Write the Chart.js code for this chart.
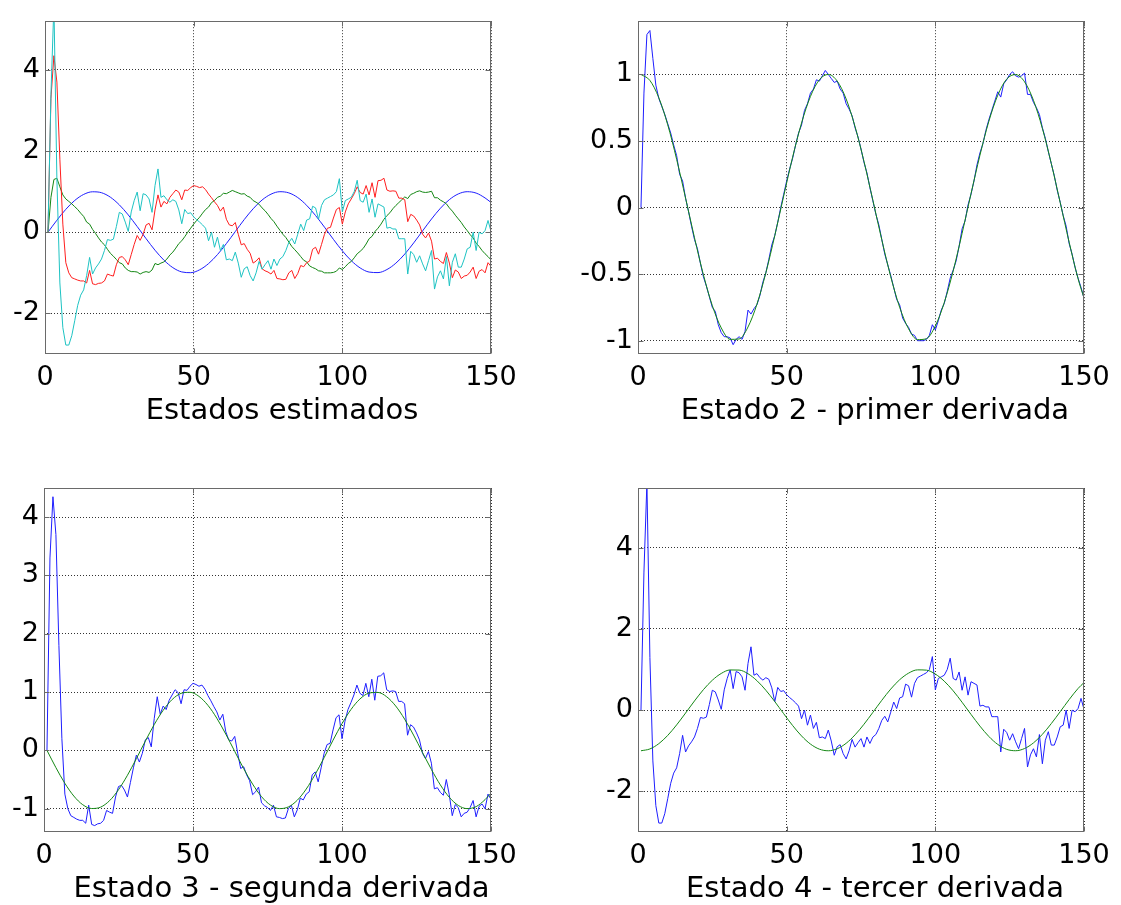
<!DOCTYPE html>
<html>
<head>
<meta charset="utf-8">
<script src="https://cdn.jsdelivr.net/npm/chart.js@4.4.1/dist/chart.umd.min.js"></script>
<style>
  body { margin: 0; background: #fff; width: 1121px; height: 905px; position: relative; overflow: hidden; }
  canvas { position: absolute; }
</style>
</head>
<body>
<canvas id="c1" width="540" height="452" style="left:0;top:0"></canvas>
<canvas id="c2" width="561" height="452" style="left:560px;top:0"></canvas>
<canvas id="c3" width="540" height="453" style="left:0;top:452px"></canvas>
<canvas id="c4" width="561" height="453" style="left:560px;top:452px"></canvas>
<script>
// estimator runs one value per step
const steps = [];
for (let k = 1; k <= 150; k++) steps.push(k);

// true states, read every 3 steps (smooth curves)
const tTrue = [1,4,7,10,13,16,19,22,25,28,31,34,37,40,43,46,49,52,55,58,61,64,67,70,73,76,79,82,85,88,
  91,94,97,100,103,106,109,112,115,118,121,124,127,130,133,136,139,142,145,148,150];

const x1True = [0.000,0.296,0.565,0.783,0.932,0.997,0.974,0.863,0.675,0.427,
  0.141,-0.158,-0.443,-0.688,-0.872,-0.978,-0.996,-0.926,-0.773,-0.551,
  -0.279,0.017,0.312,0.578,0.794,0.938,0.999,0.970,0.855,0.663,
  0.412,0.125,-0.175,-0.458,-0.700,-0.880,-0.981,-0.994,-0.919,-0.762,
  -0.537,-0.263,0.034,0.327,0.592,0.804,0.944,0.999,0.965,0.845,0.734];

const x2True = [1.000,0.955,0.825,0.622,0.362,0.071,-0.227,-0.505,-0.737,-0.904,
  -0.990,-0.987,-0.897,-0.726,-0.490,-0.211,0.087,0.378,0.635,0.835,
  0.960,1.000,0.950,0.816,0.608,0.347,0.054,-0.243,-0.519,-0.749,
  -0.911,-0.992,-0.985,-0.889,-0.714,-0.476,-0.194,0.104,0.393,0.648,
  0.844,0.965,0.999,0.945,0.806,0.595,0.331,0.037,-0.260,-0.534,-0.679];

const x3True = [0.000,-0.296,-0.565,-0.783,-0.932,-0.997,-0.974,-0.863,-0.675,-0.427,
  -0.141,0.158,0.443,0.688,0.872,0.978,0.996,0.926,0.773,0.551,
  0.279,-0.017,-0.312,-0.578,-0.794,-0.938,-0.999,-0.970,-0.855,-0.663,
  -0.412,-0.125,0.175,0.458,0.700,0.880,0.981,0.994,0.919,0.762,
  0.537,0.263,-0.034,-0.327,-0.592,-0.804,-0.944,-0.999,-0.965,-0.845,-0.734];

const x4True = [-1.000,-0.955,-0.825,-0.622,-0.362,-0.071,0.227,0.505,0.737,0.904,
  0.990,0.987,0.897,0.726,0.490,0.211,-0.087,-0.378,-0.635,-0.835,
  -0.960,-1.000,-0.950,-0.816,-0.608,-0.347,-0.054,0.243,0.519,0.749,
  0.911,0.992,0.985,0.889,0.714,0.476,0.194,-0.104,-0.393,-0.648,
  -0.844,-0.965,-0.999,-0.945,-0.806,-0.595,-0.331,-0.037,0.260,0.534,0.679];

// estimated states
const est2 = [0.00,0.86,1.30,1.33,1.12,0.92,0.82,0.76,0.70,0.63,
  0.56,0.47,0.39,0.25,0.20,0.07,-0.03,-0.14,-0.24,-0.31,
  -0.42,-0.52,-0.59,-0.67,-0.75,-0.78,-0.88,-0.94,-0.97,-0.97,
  -0.98,-1.03,-0.99,-0.97,-0.99,-0.93,-0.77,-0.80,-0.76,-0.73,
  -0.66,-0.56,-0.49,-0.39,-0.28,-0.21,-0.11,0.00,0.10,0.20,
  0.29,0.37,0.47,0.56,0.62,0.73,0.78,0.86,0.89,0.96,
  0.95,0.99,1.03,1.00,0.97,0.94,0.95,0.89,0.86,0.78,
  0.74,0.69,0.60,0.53,0.44,0.34,0.26,0.15,0.05,-0.05,
  -0.13,-0.24,-0.35,-0.43,-0.51,-0.60,-0.69,-0.73,-0.83,-0.87,
  -0.90,-0.95,-0.96,-1.00,-1.00,-1.00,-0.99,-0.96,-0.88,-0.92,
  -0.85,-0.77,-0.72,-0.63,-0.53,-0.47,-0.40,-0.29,-0.16,-0.10,
  0.02,0.10,0.20,0.32,0.41,0.48,0.58,0.66,0.73,0.80,
  0.87,0.83,0.93,0.96,1.00,1.02,0.99,0.98,0.99,1.01,
  0.85,0.85,0.79,0.75,0.70,0.60,0.52,0.42,0.33,0.24,
  0.13,0.04,-0.06,-0.14,-0.27,-0.35,-0.45,-0.53,-0.60,-0.68];

const est3 = [0.00,3.30,4.35,3.70,1.80,0.20,-0.75,-1.00,-1.12,-1.15,
  -1.18,-1.20,-1.20,-1.25,-0.94,-1.27,-1.29,-1.26,-1.25,-1.20,
  -1.03,-1.06,-1.08,-0.80,-0.62,-0.60,-0.68,-0.80,-0.55,-0.30,
  -0.08,-0.20,-0.05,0.18,0.22,0.06,0.55,0.92,0.62,0.76,
  0.70,0.86,0.95,1.04,0.99,0.80,1.04,1.03,1.10,1.15,
  1.13,1.10,1.12,1.05,0.94,0.85,0.75,0.66,0.52,0.62,
  0.32,0.18,0.16,0.24,-0.05,-0.31,-0.28,-0.42,-0.52,-0.76,
  -0.71,-0.63,-0.90,-0.95,-0.98,-1.03,-0.94,-1.14,-1.15,-1.17,
  -1.16,-1.00,-0.94,-1.14,-1.02,-0.82,-0.85,-0.75,-0.71,-0.42,
  -0.37,-0.54,-0.30,-0.05,0.10,0.12,0.35,0.56,0.61,0.20,
  0.50,0.70,0.82,0.95,1.12,0.98,0.94,1.15,0.92,1.22,
  0.86,1.27,1.28,1.33,1.04,1.01,1.02,1.01,0.84,0.84,
  0.80,0.26,0.44,0.40,0.30,0.18,-0.05,-0.14,-0.02,-0.22,
  -0.66,-0.64,-0.72,-0.77,-0.50,-0.76,-1.12,-0.93,-0.98,-1.14,
  -1.08,-1.06,-0.98,-0.86,-1.14,-0.96,-0.92,-1.00,-0.75,-0.84];

const est4 = [0.00,3.40,5.60,1.30,-1.25,-2.35,-2.78,-2.78,-2.55,-2.18,
  -1.80,-1.55,-1.42,-1.07,-0.62,-1.03,-0.88,-0.78,-0.66,-0.45,
  -0.18,-0.20,-0.17,0.14,0.49,0.45,0.25,0.02,0.50,0.78,
  0.99,0.53,0.95,0.92,0.82,0.49,1.15,1.56,0.86,0.90,
  0.80,0.74,0.80,0.76,0.55,0.21,0.56,0.46,0.48,0.38,
  0.31,0.25,0.18,0.10,-0.21,0.00,-0.37,-0.12,-0.45,-0.30,
  -0.68,-0.66,-0.70,-0.49,-0.76,-1.11,-0.90,-0.85,-1.07,-1.20,
  -1.00,-0.72,-0.91,-0.80,-0.70,-0.91,-0.66,-0.82,-0.66,-0.60,
  -0.45,-0.25,-0.15,-0.29,-0.05,0.20,0.04,0.30,0.33,0.64,
  0.60,0.32,0.66,0.80,0.84,0.88,0.92,1.00,1.32,0.50,
  0.78,0.82,0.86,1.00,1.28,0.78,0.74,0.94,0.49,0.82,
  0.37,0.70,0.66,0.62,0.10,0.12,0.08,0.08,-0.16,-0.16,
  -0.16,-1.03,-0.47,-0.55,-0.74,-0.58,-0.78,-0.95,-0.70,-0.45,
  -1.40,-1.10,-0.95,-1.15,-0.60,-1.32,-0.74,-0.53,-0.86,-0.86,
  -0.66,-0.41,-0.37,0.00,-0.45,0.00,-0.04,0.04,0.29,0.02];

const xTicks = [0, 50, 100, 150];
const yTicks1 = [-2, 0, 2, 4];
const yTicks2 = [-1, -0.5, 0, 0.5, 1];
const yTicks3 = [-1, 0, 1, 2, 3, 4];
const yTicks4 = [-2, 0, 2, 4];

const titles = ['Estados estimados', 'Estado 2 - primer derivada',
  'Estado 3 - segunda derivada', 'Estado 4 - tercer derivada'];

const BLUE = 'rgb(30,30,255)';
const GREEN = 'rgb(20,135,20)';
const RED = 'rgb(255,30,30)';
const CYAN = 'rgb(30,195,195)';

const FONT = '"DejaVu Sans", sans-serif';
const tickFont = { family: FONT, size: 27 };

function line(xs, ys, color, order, smooth) {
  return {
    data: xs.map((x, i) => ({ x: x, y: ys[i] })),
    borderColor: color,
    borderWidth: 1,
    pointRadius: 0,
    order: order,
    cubicInterpolationMode: smooth ? 'monotone' : 'default',
    tension: 0
  };
}

// axes box with small inward ticks, like matlab, plus the xlabel
const boxPlugin = {
  id: 'matlabBox',
  afterDatasetsDraw(chart, args, opts) {
    const { ctx, chartArea: a } = chart;
    const xs = chart.scales.x, ys = chart.scales.y;
    const L = Math.round(a.left) + 0.5, R = Math.round(a.right) - 0.5;
    const T = Math.round(a.top) + 0.5, B = Math.round(a.bottom) - 0.5;
    ctx.save();
    ctx.strokeStyle = '#6a6a6a';
    ctx.lineWidth = 1;
    ctx.beginPath();
    xs.ticks.forEach(tk => {
      const p = Math.round(xs.getPixelForValue(tk.value)) + 0.5;
      ctx.moveTo(p, B); ctx.lineTo(p, B - 5);
      ctx.moveTo(p, T); ctx.lineTo(p, T + 5);
    });
    ys.ticks.forEach(tk => {
      const p = Math.round(ys.getPixelForValue(tk.value)) + 0.5;
      ctx.moveTo(L, p); ctx.lineTo(L + 5, p);
      ctx.moveTo(R, p); ctx.lineTo(R - 5, p);
    });
    ctx.stroke();
    ctx.strokeRect(L, T, R - L, B - T);

    ctx.fillStyle = '#000';
    ctx.font = '29px ' + FONT;
    ctx.textAlign = 'center';
    ctx.textBaseline = 'middle';
    ctx.fillText(opts.text, (a.left + a.right) / 2 + opts.dx, a.bottom + opts.dy);
    ctx.restore();
  }
};

function makeChart(id, datasets, yMin, yMax, yTicks, title, box) {
  new Chart(document.getElementById(id), {
    type: 'line',
    data: { datasets: datasets },
    options: {
      responsive: false,
      animation: false,
      events: [],
      layout: { padding: { top: box.top, right: box.right, bottom: 0, left: 0 } },
      plugins: {
        legend: { display: false },
        tooltip: { enabled: false },
        matlabBox: { text: title, dx: 14, dy: 57 }
      },
      scales: {
        x: {
          type: 'linear', min: 0, max: 150,
          afterBuildTicks: s => { s.ticks = xTicks.map(v => ({ value: v })); },
          afterFit: s => { s.height = box.xh; },
          grid: { color: 'rgba(0,0,0,0.8)', lineWidth: 1, drawTicks: false },
          border: { display: false, dash: [1, 2] },
          ticks: { font: tickFont, color: '#000', padding: 8, maxRotation: 0, callback: v => String(v) }
        },
        y: {
          type: 'linear', min: yMin, max: yMax,
          afterBuildTicks: s => { s.ticks = yTicks.map(v => ({ value: v })); },
          afterFit: s => { s.width = box.yw; },
          grid: { color: 'rgba(0,0,0,0.8)', lineWidth: 1, drawTicks: false },
          border: { display: false, dash: [1, 2] },
          ticks: { font: tickFont, color: '#000', padding: 5, callback: v => String(v) }
        }
      }
    },
    plugins: [boxPlugin]
  });
}

makeChart('c1', [
  line(steps, est4, CYAN, 0, false),
  line(steps, est3, RED, 1, false),
  line(steps, est2, GREEN, 2, false),
  line(tTrue, x1True, BLUE, 3, true)
], -3, 5.2, yTicks1, titles[0], { top: 11, right: 49, xh: 98, yw: 45 });

makeChart('c2', [
  line(tTrue, x2True, GREEN, 0, true),
  line(steps, est2, BLUE, 1, false)
], -1.1, 1.4, yTicks2, titles[1], { top: 11, right: 37, xh: 98, yw: 78 });

makeChart('c3', [
  line(tTrue, x3True, GREEN, 0, true),
  line(steps, est3, BLUE, 1, false)
], -1.4, 4.5, yTicks3, titles[2], { top: 36, right: 49, xh: 73, yw: 44 });

makeChart('c4', [
  line(tTrue, x4True, GREEN, 0, true),
  line(steps, est4, BLUE, 1, false)
], -3, 5.47, yTicks4, titles[3], { top: 36, right: 37, xh: 73, yw: 78 });
</script>
</body>
</html>
